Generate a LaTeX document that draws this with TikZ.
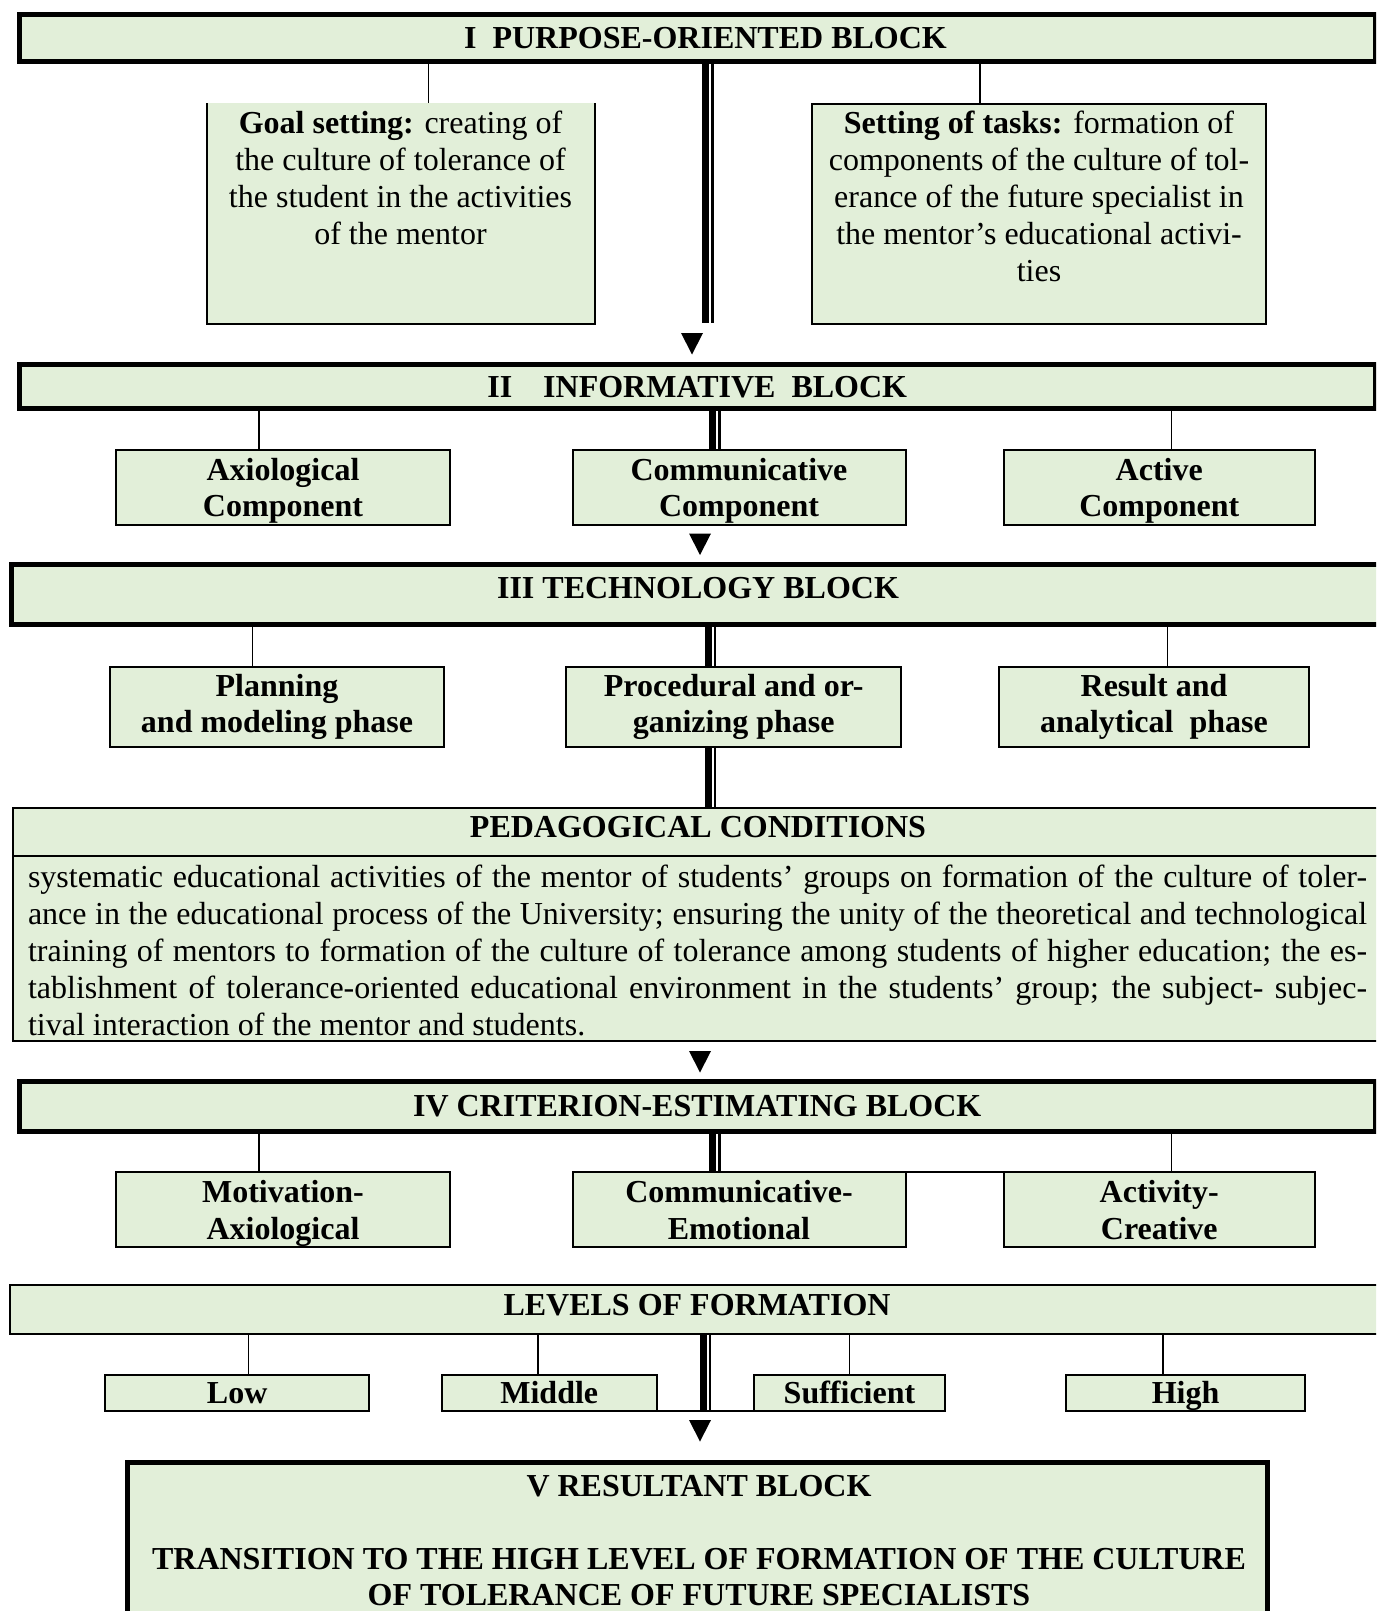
\documentclass[tikz,border=0pt]{standalone}
\usepackage{fontspec}
\setmainfont{Liberation Serif}
\definecolor{pale}{HTML}{E2EFD9}
\newcommand\dblbar[3]{%
  \coordinate (tmpa) at (#3+3.5,0);
  \coordinate (tmpb) at (#3+10.25,0);
  \draw[barA] (#1 -| tmpa) -- (#2 -| tmpa);
  \draw[barB] (#1 -| tmpb) -- (#2 -| tmpb);}
\newcommand\vconn[3]{%
  \path ([xshift=#3pt]#1.north) coordinate (vc);
  \draw[conn] (vc) -- (vc |- #2.south);}
\newcommand\tipdown[1]{%
  \fill (#1) ++(-11,0) -- ++(22,0) -- ++(-11,21.5) -- cycle;}
\newcommand\topst{\rule{0pt}{30pt}}
\newcommand\botst{\rule[-8pt]{0pt}{8pt}}
\begin{document}
\begin{tikzpicture}[x=1pt,y=-1pt,
  every node/.style={inner sep=0pt, outer sep=0pt},
  txt/.style={font=\fontsize{32}{37}\selectfont},
  hdr/.style={font=\fontsize{32}{36.6}\selectfont\bfseries},
  blk/.style={draw, line width=5pt, fill=pale, hdr, text height=21pt, text depth=0pt},
  pbox/.style={draw, line width=2pt, fill=pale, hdr, align=center},
  lbox/.style={draw, line width=2pt, fill=pale, hdr, minimum height=36pt, text height=21pt, text depth=0pt},
  conn/.style={line width=1.3pt},
  barA/.style={line width=7pt},
  barB/.style={line width=2.5pt},
]
\useasboundingbox (0,0) rectangle (1376,1611);
\clip (0,0) rectangle (1376,1611);

% ---------- I ----------
\node[blk, minimum width=1356.5pt, minimum height=47pt] (blkI) at (697.25,38)
  {\hspace{16.5pt}I\hspace{16pt}PURPOSE-ORIENTED BLOCK};

\node[fill=pale, minimum width=388pt, minimum height=221pt] (goal) at (400.5,213.5) {};
\draw[line width=2pt] (goal.north west) -- (goal.south west) -- (goal.south east) -- (goal.north east);
\node[txt, text width=384pt, align=flush center, anchor=base] (goaltext) at (400.5,133)
  {\textbf{Goal setting:} creating of\\the culture of tolerance of\\the student in the activities\\of the mentor};

\node[draw, line width=2pt, fill=pale, minimum width=454pt, minimum height=220.5pt] (tasks) at (1039,213.75) {};
\node[txt, text width=450pt, align=flush center, anchor=base] (taskstext) at (1039,133)
  {\textbf{Setting of tasks:} formation of\\components of the culture of tol-\\erance of the future specialist in\\the mentor’s educational activi-\\ties};

\vconn{goal}{blkI}{28}
\vconn{tasks}{blkI}{-59}
\coordinate (barIend) at (0,323);
\dblbar{blkI.south}{barIend}{702}
\coordinate (ar1) at (692,333);
\tipdown{ar1}

% ---------- II ----------
\node[blk, minimum width=1356.5pt, minimum height=44pt] (blkII) at (697.25,386.5)
  {II\hspace{31pt}INFORMATIVE\hspace{16pt}BLOCK};
\node[pbox, minimum width=334pt, minimum height=74pt] (axio) at (283,487.3) {\topst Axiological\\Component\botst};
\node[pbox, minimum width=333pt, minimum height=74pt] (comm) at (739,487.3) {\topst Communicative\\Component\botst};
\node[pbox, minimum width=310.5pt, minimum height=74pt] (acti) at (1159.25,487.3) {\topst Active\\Component\botst};
\vconn{axio}{blkII}{-24}
\vconn{acti}{blkII}{12.4}
\dblbar{blkII.south}{comm.north}{709}
\coordinate (ar2) at (700,533.5);
\tipdown{ar2}

% ---------- III ----------
\node[blk, minimum width=1373pt, minimum height=60pt, text depth=13pt] (blkIII) at (698,594.5)
  {III TECHNOLOGY BLOCK};
\node[pbox, minimum width=334.2pt, minimum height=80.6pt] (plan) at (277,707) {Planning\\and modeling phase};
\node[pbox, minimum width=335pt, minimum height=80.6pt] (proc) at (733.7,707) {Procedural and or-\\ganizing phase};
\node[pbox, minimum width=310.4pt, minimum height=80.6pt] (resu) at (1154,707) {Result and\\analytical\ \ phase};
\vconn{plan}{blkIII}{-24.3}
\vconn{resu}{blkIII}{13.2}
\dblbar{blkIII.south}{proc.north}{704.7}

% ---------- pedagogical conditions ----------
\node[draw, line width=2pt, fill=pale, hdr, minimum width=1370pt, minimum height=47.5pt,
      text height=21pt, text depth=9.5pt] (pedhead) at (698,831.75) {PEDAGOGICAL CONDITIONS};
\node[draw, line width=2pt, fill=pale, minimum width=1370pt, minimum height=185.5pt] (pedbody) at (698,948.25) {};
\node[font=\fontsize{32}{37.2}\selectfont, text width=1339pt, align=justify, anchor=base west] (pedtext) at (28,887)
  {\tolerance=9999\emergencystretch=20pt
  systematic educational activities of the mentor of students’ groups on formation of the culture of toler-\linebreak
  ance in the educational process of the University; ensuring the unity of the theoretical and technological\linebreak
  training of mentors to formation of the culture of tolerance among students of higher education; the es-\linebreak
  tablishment of tolerance-oriented educational environment in the students’ group; the subject- subjec-\linebreak
  tival interaction of the mentor and students.};
\dblbar{proc.south}{pedhead.north}{704.7}
\coordinate (ar3) at (700,1051);
\tipdown{ar3}

% ---------- IV ----------
\node[blk, minimum width=1356.5pt, minimum height=49.5pt] (blkIV) at (697.25,1106.25)
  {IV CRITERION-ESTIMATING BLOCK};
\node[pbox, minimum width=334pt, minimum height=74pt] (moti) at (283,1209.7) {\topst Motivation-\\Axiological\botst};
\node[pbox, minimum width=333pt, minimum height=74pt] (ce) at (739,1209.7) {\topst Communicative-\\Emotional\botst};
\node[pbox, minimum width=310.5pt, minimum height=74pt] (ac) at (1159.25,1209.7) {\topst Activity-\\Creative\botst};
\draw[line width=2pt] (ce.north east) -- (ac.north west);
\vconn{moti}{blkIV}{-24}
\vconn{ac}{blkIV}{12.4}
\dblbar{blkIV.south}{ce.north}{709}

% ---------- levels ----------
\node[draw, line width=2pt, fill=pale, hdr, minimum width=1374pt, minimum height=49pt,
      text height=21pt, text depth=9pt] (levels) at (697,1309.5) {LEVELS OF FORMATION};
\node[lbox, minimum width=263.7pt] (low) at (237.2,1392.7) {Low};
\node[lbox, minimum width=215.5pt] (mid) at (549.25,1392.7) {Middle};
\node[lbox, minimum width=191pt] (suff) at (849.5,1392.7) {Sufficient};
\node[lbox, minimum width=238.4pt] (high) at (1185.6,1392.7) {High};
\draw[line width=2pt] (mid.south east) -- (suff.south west);
\vconn{low}{levels}{11.5}
\vconn{mid}{levels}{-11.25}
\vconn{suff}{levels}{0}
\vconn{high}{levels}{-22.6}
\dblbar{levels.south}{mid.south}{699.5}
\coordinate (ar4) at (700,1420);
\tipdown{ar4}

% ---------- V ----------
\node[draw, line width=5pt, fill=pale, minimum width=1140pt, minimum height=177.5pt] (res) at (697.5,1551.25) {};
\node[hdr, text width=1130pt, align=flush center, anchor=base] (restext) at (699,1496)
  {V RESULTANT BLOCK\\[36.6pt]TRANSITION TO THE HIGH LEVEL OF FORMATION OF THE CULTURE\\OF TOLERANCE OF FUTURE SPECIALISTS};
\end{tikzpicture}
\end{document}
